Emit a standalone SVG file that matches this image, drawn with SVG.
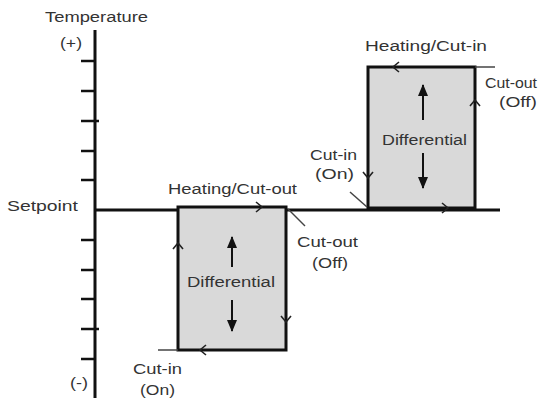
<svg xmlns="http://www.w3.org/2000/svg" width="545" height="398" viewBox="0 0 545 398">
<defs>
<style>
.ax{stroke:#111;stroke-width:3;fill:none}
.tk{stroke:#111;stroke-width:2.5;fill:none}
.box{fill:#d9d9d9;stroke:#111;stroke-width:3}
.ld{stroke:#444;stroke-width:1.5;fill:none}
.ch{stroke:#222;stroke-width:1.6;fill:none}
.da{stroke:#111;stroke-width:2;fill:none;marker-end:url(#tri)}
text{font-family:"Liberation Sans",Arial,sans-serif;font-size:14px;fill:#333}
</style>
<marker id="tri" markerUnits="userSpaceOnUse" markerWidth="12" markerHeight="10" viewBox="0 0 12 10" refX="11" refY="5" orient="auto">
<path d="M0,0 L12,5 L0,10 Z" fill="#111"/>
</marker>
</defs>
<rect width="545" height="398" fill="#fff"/>
<g id="axis">
<line class="ax" x1="95" y1="30" x2="95" y2="398"/>
<path class="tk" d="M81,61H95 M81,91H95 M81,121H99 M81,151H95 M81,180H95 M81,240H95 M81,270H95 M81,299H95 M81,329H99 M81,359H95"/>
<text x="45" y="22" textLength="103" lengthAdjust="spacingAndGlyphs">Temperature</text>
<text x="60" y="48" textLength="22" lengthAdjust="spacingAndGlyphs">(+)</text>
<text x="70" y="388" textLength="18" lengthAdjust="spacingAndGlyphs">(-)</text>
</g>
<g id="setpoint">
<line class="ax" x1="95" y1="210" x2="500" y2="210"/>
<text x="7" y="211" textLength="71" lengthAdjust="spacingAndGlyphs">Setpoint</text>
</g>
<g id="heating-box">
<rect class="box" x="178" y="207" width="108" height="143"/>
<text x="187" y="287" textLength="88" lengthAdjust="spacingAndGlyphs">Differential</text>
<text x="168" y="194" textLength="129" lengthAdjust="spacingAndGlyphs">Heating/Cut-out</text>
</g>
<g id="cooling-box">
<rect class="box" x="368" y="67" width="107" height="141"/>
<text x="382" y="145" textLength="85" lengthAdjust="spacingAndGlyphs">Differential</text>
<text x="365" y="51" textLength="122" lengthAdjust="spacingAndGlyphs">Heating/Cut-in</text>
</g>
<g id="label-cutout-lower">
<text x="297" y="247" textLength="61" lengthAdjust="spacingAndGlyphs">Cut-out</text>
<text x="312" y="268" textLength="36" lengthAdjust="spacingAndGlyphs">(Off)</text>
</g>
<g id="label-cutin-lower">
<text x="133" y="374" textLength="49" lengthAdjust="spacingAndGlyphs">Cut-in</text>
<text x="140" y="395" textLength="35" lengthAdjust="spacingAndGlyphs">(On)</text>
</g>
<g id="label-cutout-upper">
<text x="485" y="88" textLength="52" lengthAdjust="spacingAndGlyphs">Cut-out</text>
<text x="499" y="107" textLength="38" lengthAdjust="spacingAndGlyphs">(Off)</text>
</g>
<g id="label-cutin-upper">
<text x="310" y="160" textLength="47" lengthAdjust="spacingAndGlyphs">Cut-in</text>
<text x="315" y="179" textLength="39" lengthAdjust="spacingAndGlyphs">(On)</text>
</g>
<g id="connectors">
<line class="ld" x1="158" y1="350" x2="178" y2="350"/>
<line class="ld" x1="475" y1="67" x2="495" y2="67"/>
<line class="ld" x1="288" y1="209" x2="305" y2="226"/>
<line class="ld" x1="350" y1="192" x2="367" y2="207"/>
<path class="ch" d="M399,62 L393,67 L399,72"/>
<path class="ch" d="M470,106 L475,100 L480,106"/>
<path class="ch" d="M363,172 L368,178 L373,172"/>
<path class="ch" d="M442,203 L448,208 L442,213"/>
<path class="ch" d="M256,202 L262,207 L256,212"/>
<path class="ch" d="M281,316 L286,322 L291,316"/>
<path class="ch" d="M206,345 L200,350 L206,355"/>
<path class="ch" d="M173,249 L178,243 L183,249"/>
<line class="da" x1="423" y1="120" x2="423" y2="85"/>
<line class="da" x1="423" y1="153" x2="423" y2="188"/>
<line class="da" x1="232" y1="267" x2="232" y2="237"/>
<line class="da" x1="232" y1="300" x2="232" y2="331"/>
</g>
</svg>
